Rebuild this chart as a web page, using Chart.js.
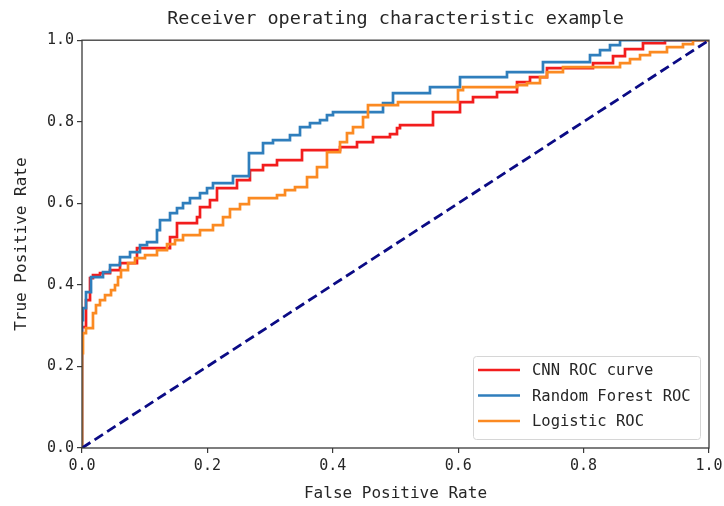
<!DOCTYPE html>
<html>
<head>
<meta charset="utf-8">
<title>ROC</title>
<script src="https://cdn.jsdelivr.net/npm/chart.js@4.4.1/dist/chart.umd.min.js"></script>
<style>
  html, body { margin: 0; padding: 0; background: #fff; }
</style>
</head>
<body>
<canvas id="myChartroc" width="724" height="506"></canvas>
<script>
  // points de la courbe ROC (fpr, tpr) pour chaque modele
  var cnnFpr = [0, 0, 0.0064, 0.0128, 0.0175, 0.0287, 0.0447, 0.0606, 0.0877, 0.1404, 0.1515, 0.1834, 0.1882, 0.2041, 0.2153, 0.2472, 0.2679, 0.2887, 0.311, 0.3509, 0.4115, 0.4386, 0.4641, 0.4912, 0.5024, 0.5072, 0.5598, 0.6029, 0.6236, 0.6619, 0.6938, 0.7145, 0.7416, 0.815, 0.8469, 0.866, 0.8947, 0.9298, 1];
  var cnnTpr = [0, 0.2966, 0.3627, 0.4167, 0.424, 0.4289, 0.4363, 0.4534, 0.4902, 0.5172, 0.5515, 0.5662, 0.5907, 0.6078, 0.6373, 0.6569, 0.6814, 0.6936, 0.7059, 0.7304, 0.7377, 0.75, 0.7623, 0.7696, 0.7843, 0.7917, 0.8235, 0.848, 0.8603, 0.8725, 0.8971, 0.9093, 0.9314, 0.9436, 0.9608, 0.978, 0.9926, 1, 1];

  var rfFpr = [0, 0, 0.0016, 0.0064, 0.0144, 0.0335, 0.0447, 0.0606, 0.0766, 0.0925, 0.1037, 0.1196, 0.1244, 0.1404, 0.1515, 0.1611, 0.1722, 0.1882, 0.1994, 0.2089, 0.2408, 0.2663, 0.2887, 0.3046, 0.3317, 0.3477, 0.3636, 0.3796, 0.3907, 0.4003, 0.4801, 0.496, 0.555, 0.6029, 0.6778, 0.7352, 0.8102, 0.8262, 0.8421, 0.8581, 1];
  var rfTpr = [0, 0.3137, 0.3431, 0.3824, 0.4191, 0.4314, 0.4485, 0.4681, 0.4804, 0.4975, 0.5049, 0.5343, 0.5588, 0.576, 0.5882, 0.6005, 0.6127, 0.625, 0.6373, 0.6495, 0.6667, 0.723, 0.7475, 0.7549, 0.7672, 0.7868, 0.7966, 0.8039, 0.8162, 0.8235, 0.8456, 0.8701, 0.8848, 0.9093, 0.9216, 0.9461, 0.9632, 0.9755, 0.9877, 1, 1];

  var logFpr = [0, 0, 0.0016, 0.0064, 0.0175, 0.0223, 0.0287, 0.0367, 0.0463, 0.0526, 0.0574, 0.0622, 0.0734, 0.0845, 0.1005, 0.1196, 0.1356, 0.1483, 0.1611, 0.1882, 0.2089, 0.2249, 0.236, 0.252, 0.2663, 0.311, 0.3238, 0.3397, 0.3589, 0.3748, 0.3907, 0.4115, 0.4226, 0.4322, 0.4482, 0.4561, 0.504, 0.5997, 0.6077, 0.6938, 0.7097, 0.7305, 0.7416, 0.7671, 0.8581, 0.874, 0.89, 0.9059, 0.933, 0.9585, 0.9745, 1];
  var logTpr = [0, 0.2328, 0.2819, 0.2941, 0.3309, 0.3505, 0.3627, 0.375, 0.3873, 0.3995, 0.4191, 0.4363, 0.4534, 0.4657, 0.473, 0.4853, 0.5, 0.5098, 0.522, 0.5343, 0.5466, 0.5662, 0.5858, 0.598, 0.6127, 0.6201, 0.6324, 0.6397, 0.6642, 0.6887, 0.7255, 0.75, 0.7721, 0.7868, 0.8113, 0.8407, 0.848, 0.8775, 0.8848, 0.8897, 0.8946, 0.9093, 0.9216, 0.9338, 0.9436, 0.9534, 0.9632, 0.9706, 0.9828, 0.9902, 1, 1];

  // diagonale (classifieur aleatoire)
  var chanceFpr = [0, 1];
  var chanceTpr = [0, 1];

  var tickValues = [0, 0.2, 0.4, 0.6, 0.8, 1.0];
  var seriesNames = ['CNN ROC curve', 'Random Forest ROC', 'Logistic ROC'];
  var seriesColors = ['#f21d1d', '#2f7ebc', '#fb8a22'];

  var fontFamily = "'DejaVu Sans Mono', 'Liberation Mono', monospace";
  var textColor = '#262626';

  function toPoints(xs, ys) {
    return xs.map(function(x, i) { return {x: x, y: ys[i]}; });
  }

  function rocDataset(i, xs, ys) {
    return {
      label: seriesNames[i],
      data: toPoints(xs, ys),
      borderColor: seriesColors[i],
      backgroundColor: seriesColors[i],
      borderWidth: 2.7,
      pointRadius: 0,
      stepped: true,
      fill: false,
      order: 4 - i
    };
  }

  // cadre du graphique + legende en bas a droite
  var framePlugin = {
    id: 'framePlugin',
    afterDraw: function(chart) {
      var ctx = chart.ctx;
      var area = chart.chartArea;
      ctx.save();
      ctx.strokeStyle = '#3a3a3a';
      ctx.lineWidth = 1.3;
      ctx.strokeRect(area.left, area.top, area.right - area.left, area.bottom - area.top);

      var w = 227, h = 83;
      var x = area.right - 236, y = area.bottom - 92;
      ctx.beginPath();
      ctx.roundRect(x + 0.5, y + 0.5, w, h, 3);
      ctx.fillStyle = 'rgba(255,255,255,0.85)';
      ctx.fill();
      ctx.strokeStyle = '#d6d6d6';
      ctx.lineWidth = 1;
      ctx.stroke();

      ctx.font = '15.5px ' + fontFamily;
      ctx.textBaseline = 'middle';
      ctx.textAlign = 'left';
      for (var i = 0; i < seriesNames.length; i++) {
        var ly = y + 14 + i * 25.5;
        ctx.beginPath();
        ctx.moveTo(x + 5, ly);
        ctx.lineTo(x + 47, ly);
        ctx.strokeStyle = seriesColors[i];
        ctx.lineWidth = 2.7;
        ctx.stroke();
        ctx.fillStyle = textColor;
        ctx.fillText(seriesNames[i], x + 59, ly + 1);
      }
      ctx.restore();
    }
  };

  function axisOptions(titleText, titlePadding, ticksPadding) {
    return {
      type: 'linear',
      min: 0,
      max: 1,
      afterBuildTicks: function(scale) {
        scale.ticks = tickValues.map(function(v) { return {value: v}; });
      },
      ticks: {
        color: textColor,
        padding: ticksPadding,
        font: {family: fontFamily, size: 15},
        maxRotation: 0,
        callback: function(v) { return Number(v).toFixed(1); }
      },
      grid: {
        drawOnChartArea: false,
        drawTicks: true,
        tickLength: 5,
        color: '#3a3a3a',
        lineWidth: 1.2
      },
      border: {display: false},
      title: {
        display: true,
        text: titleText,
        color: textColor,
        font: {family: fontFamily, size: 16},
        padding: titlePadding
      }
    };
  }

  var xAxis = axisOptions('False Positive Rate', {top: 0, bottom: 3}, 4);
  xAxis.afterFit = function(scale) {
    scale.height = 58;
    scale.paddingLeft = 0;
    scale.paddingRight = 0;
  };
  var yAxis = axisOptions('True Positive Rate', {top: 12, bottom: 0}, 3);
  yAxis.afterFit = function(scale) { scale.width = 82; };

  var ctx_roc = document.getElementById('myChartroc').getContext('2d');
  var myChartroc = new Chart(ctx_roc, {
    type: 'line',
    data: {
      datasets: [
        rocDataset(0, cnnFpr, cnnTpr),
        rocDataset(1, rfFpr, rfTpr),
        rocDataset(2, logFpr, logTpr),
        {
          label: 'chance',
          data: toPoints(chanceFpr, chanceTpr),
          borderColor: '#0b0b85',
          borderWidth: 2.8,
          borderDash: [10, 5],
          pointRadius: 0,
          fill: false,
          order: 0
        }
      ]
    },
    options: {
      responsive: false,
      animation: false,
      layout: {padding: {top: 0, right: 15, bottom: 0, left: 0}},
      plugins: {
        legend: {display: false},
        tooltip: {enabled: false},
        title: {
          display: true,
          fullSize: false,
          text: 'Receiver operating characteristic example',
          color: textColor,
          font: {family: fontFamily, size: 18.5, weight: 'normal'},
          padding: {top: 8, bottom: 10}
        }
      },
      scales: {
        x: xAxis,
        y: yAxis
      }
    },
    plugins: [framePlugin]
  });
</script>
</body>
</html>
